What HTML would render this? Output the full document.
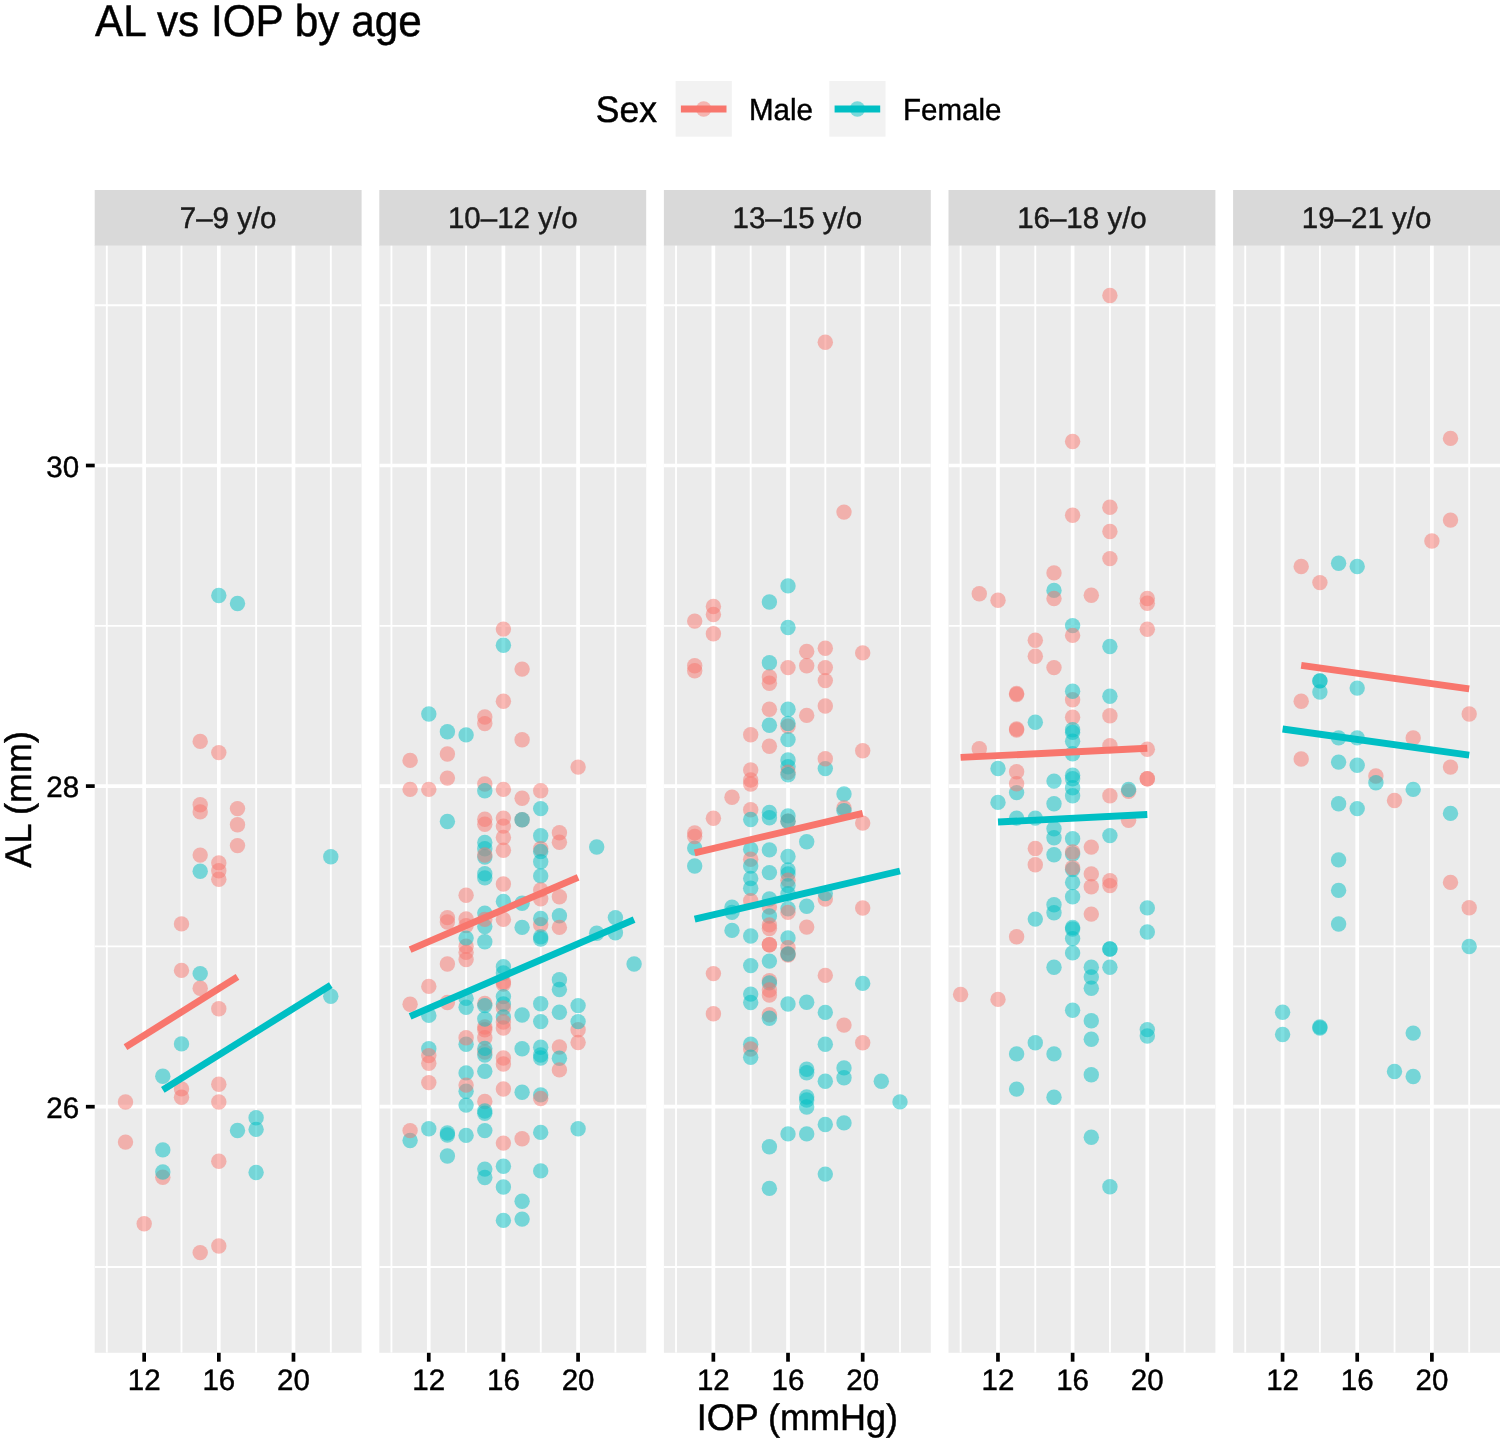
<!DOCTYPE html><html><head><meta charset="utf-8"><style>html,body{margin:0;padding:0;background:#fff;}svg{display:block;}</style></head><body>
<svg width="1500" height="1447" viewBox="0 0 1500 1447" font-family="Liberation Sans, sans-serif" text-rendering="geometricPrecision">
<defs><filter id="gs"><feOffset dx="0" dy="0"/></filter></defs>
<rect width="1500" height="1447" fill="#fff"/>
<g filter="url(#gs)"><text transform="translate(95.00,36.40) scale(1,1.049)" font-size="42.3" text-anchor="start" fill="#000" stroke="#000" stroke-width="0.45">AL vs IOP by age</text></g>
<g filter="url(#gs)"><text transform="translate(595.80,122.00) scale(1,1.04)" font-size="35.5" text-anchor="start" fill="#000" stroke="#000" stroke-width="0.45">Sex</text></g>
<rect x="675.6" y="81" width="56.2" height="55.7" fill="#F2F2F2"/>
<circle cx="703.7" cy="109.0" r="7.7" fill="#F8766D" fill-opacity="0.5"/>
<line x1="680.9" y1="109.0" x2="726.5" y2="109.0" stroke="#F8766D" stroke-width="7.0"/>
<g filter="url(#gs)"><text transform="translate(749.00,119.85) scale(1,1.03)" font-size="29.5" text-anchor="start" fill="#000" stroke="#000" stroke-width="0.45">Male</text></g>
<rect x="829.3" y="81" width="56.2" height="55.7" fill="#F2F2F2"/>
<circle cx="857.4" cy="109.0" r="7.7" fill="#00BFC4" fill-opacity="0.5"/>
<line x1="834.5999999999999" y1="109.0" x2="880.1999999999999" y2="109.0" stroke="#00BFC4" stroke-width="7.0"/>
<g filter="url(#gs)"><text transform="translate(903.00,119.85) scale(1,1.03)" font-size="29.5" text-anchor="start" fill="#000" stroke="#000" stroke-width="0.45">Female</text></g>
<rect x="94.70" y="190.0" width="266.9" height="56.00" fill="#D9D9D9"/>
<g filter="url(#gs)"><text transform="translate(228.15,228.40) scale(1,1.01)" font-size="29.5" text-anchor="middle" fill="#1A1A1A" stroke="#1A1A1A" stroke-width="0.45">7–9 y/o</text></g>
<rect x="94.70" y="245.5" width="266.9" height="1107.30" fill="#EBEBEB"/>
<svg x="94.70" y="245.5" width="266.9" height="1107.30" overflow="hidden"><g transform="translate(-94.70,-245.5)">
<line x1="94.70" x2="361.60" y1="1267.00" y2="1267.00" stroke="#fff" stroke-width="1.85"/>
<line x1="94.70" x2="361.60" y1="946.40" y2="946.40" stroke="#fff" stroke-width="1.85"/>
<line x1="94.70" x2="361.60" y1="625.80" y2="625.80" stroke="#fff" stroke-width="1.85"/>
<line x1="94.70" x2="361.60" y1="305.20" y2="305.20" stroke="#fff" stroke-width="1.85"/>
<line x1="106.83" x2="106.83" y1="245.5" y2="1352.8" stroke="#fff" stroke-width="1.85"/>
<line x1="181.49" x2="181.49" y1="245.5" y2="1352.8" stroke="#fff" stroke-width="1.85"/>
<line x1="256.15" x2="256.15" y1="245.5" y2="1352.8" stroke="#fff" stroke-width="1.85"/>
<line x1="330.80" x2="330.80" y1="245.5" y2="1352.8" stroke="#fff" stroke-width="1.85"/>
<line x1="94.70" x2="361.60" y1="1106.70" y2="1106.70" stroke="#fff" stroke-width="3.7"/>
<line x1="94.70" x2="361.60" y1="786.10" y2="786.10" stroke="#fff" stroke-width="3.7"/>
<line x1="94.70" x2="361.60" y1="465.50" y2="465.50" stroke="#fff" stroke-width="3.7"/>
<line x1="144.16" x2="144.16" y1="245.5" y2="1352.8" stroke="#fff" stroke-width="3.7"/>
<line x1="218.82" x2="218.82" y1="245.5" y2="1352.8" stroke="#fff" stroke-width="3.7"/>
<line x1="293.48" x2="293.48" y1="245.5" y2="1352.8" stroke="#fff" stroke-width="3.7"/>
<circle cx="218.8" cy="595.5" r="7.7" fill="#00BFC4" fill-opacity="0.5"/>
<circle cx="237.5" cy="603.5" r="7.7" fill="#00BFC4" fill-opacity="0.5"/>
<circle cx="200.2" cy="871.3" r="7.7" fill="#00BFC4" fill-opacity="0.5"/>
<circle cx="330.8" cy="856.8" r="7.7" fill="#00BFC4" fill-opacity="0.5"/>
<circle cx="200.2" cy="973.6" r="7.7" fill="#00BFC4" fill-opacity="0.5"/>
<circle cx="330.8" cy="996.3" r="7.7" fill="#00BFC4" fill-opacity="0.5"/>
<circle cx="181.5" cy="1043.9" r="7.7" fill="#00BFC4" fill-opacity="0.5"/>
<circle cx="162.8" cy="1076.2" r="7.7" fill="#00BFC4" fill-opacity="0.5"/>
<circle cx="256.1" cy="1117.8" r="7.7" fill="#00BFC4" fill-opacity="0.5"/>
<circle cx="237.5" cy="1130.5" r="7.7" fill="#00BFC4" fill-opacity="0.5"/>
<circle cx="256.1" cy="1129.4" r="7.7" fill="#00BFC4" fill-opacity="0.5"/>
<circle cx="162.8" cy="1149.9" r="7.7" fill="#00BFC4" fill-opacity="0.5"/>
<circle cx="256.1" cy="1172.5" r="7.7" fill="#00BFC4" fill-opacity="0.5"/>
<circle cx="200.2" cy="741.4" r="7.7" fill="#F8766D" fill-opacity="0.5"/>
<circle cx="218.8" cy="752.6" r="7.7" fill="#F8766D" fill-opacity="0.5"/>
<circle cx="200.2" cy="804.8" r="7.7" fill="#F8766D" fill-opacity="0.5"/>
<circle cx="200.2" cy="811.9" r="7.7" fill="#F8766D" fill-opacity="0.5"/>
<circle cx="237.5" cy="808.6" r="7.7" fill="#F8766D" fill-opacity="0.5"/>
<circle cx="237.5" cy="824.8" r="7.7" fill="#F8766D" fill-opacity="0.5"/>
<circle cx="237.5" cy="845.6" r="7.7" fill="#F8766D" fill-opacity="0.5"/>
<circle cx="200.2" cy="855.1" r="7.7" fill="#F8766D" fill-opacity="0.5"/>
<circle cx="218.8" cy="862.9" r="7.7" fill="#F8766D" fill-opacity="0.5"/>
<circle cx="218.8" cy="870.8" r="7.7" fill="#F8766D" fill-opacity="0.5"/>
<circle cx="218.8" cy="879.3" r="7.7" fill="#F8766D" fill-opacity="0.5"/>
<circle cx="181.5" cy="923.9" r="7.7" fill="#F8766D" fill-opacity="0.5"/>
<circle cx="181.5" cy="970.4" r="7.7" fill="#F8766D" fill-opacity="0.5"/>
<circle cx="200.2" cy="988.3" r="7.7" fill="#F8766D" fill-opacity="0.5"/>
<circle cx="218.8" cy="1008.8" r="7.7" fill="#F8766D" fill-opacity="0.5"/>
<circle cx="218.8" cy="1084.2" r="7.7" fill="#F8766D" fill-opacity="0.5"/>
<circle cx="181.5" cy="1088.9" r="7.7" fill="#F8766D" fill-opacity="0.5"/>
<circle cx="181.5" cy="1097.3" r="7.7" fill="#F8766D" fill-opacity="0.5"/>
<circle cx="218.8" cy="1102.0" r="7.7" fill="#F8766D" fill-opacity="0.5"/>
<circle cx="125.5" cy="1102.0" r="7.7" fill="#F8766D" fill-opacity="0.5"/>
<circle cx="125.5" cy="1142.1" r="7.7" fill="#F8766D" fill-opacity="0.5"/>
<circle cx="218.8" cy="1161.3" r="7.7" fill="#F8766D" fill-opacity="0.5"/>
<circle cx="162.8" cy="1177.2" r="7.7" fill="#F8766D" fill-opacity="0.5"/>
<circle cx="144.2" cy="1223.8" r="7.7" fill="#F8766D" fill-opacity="0.5"/>
<circle cx="200.2" cy="1252.6" r="7.7" fill="#F8766D" fill-opacity="0.5"/>
<circle cx="218.8" cy="1246.0" r="7.7" fill="#F8766D" fill-opacity="0.5"/>
<circle cx="162.8" cy="1172.0" r="7.7" fill="#00BFC4" fill-opacity="0.5"/>
<line x1="125.5" y1="1047.1" x2="237.5" y2="976.8" stroke="#F8766D" stroke-width="6.9"/>
<line x1="162.8" y1="1089.9" x2="330.8" y2="985.1" stroke="#00BFC4" stroke-width="6.9"/>
</g></svg>
<line x1="144.16" x2="144.16" y1="1352.8" y2="1361.70" stroke="#000" stroke-width="3.7"/>
<g filter="url(#gs)"><text transform="translate(144.16,1389.80) scale(1,1.0)" font-size="29.5" text-anchor="middle" fill="#000" stroke="#000" stroke-width="0.45">12</text></g>
<line x1="218.82" x2="218.82" y1="1352.8" y2="1361.70" stroke="#000" stroke-width="3.7"/>
<g filter="url(#gs)"><text transform="translate(218.82,1389.80) scale(1,1.0)" font-size="29.5" text-anchor="middle" fill="#000" stroke="#000" stroke-width="0.45">16</text></g>
<line x1="293.48" x2="293.48" y1="1352.8" y2="1361.70" stroke="#000" stroke-width="3.7"/>
<g filter="url(#gs)"><text transform="translate(293.48,1389.80) scale(1,1.0)" font-size="29.5" text-anchor="middle" fill="#000" stroke="#000" stroke-width="0.45">20</text></g>
<rect x="379.30" y="190.0" width="266.9" height="56.00" fill="#D9D9D9"/>
<g filter="url(#gs)"><text transform="translate(512.75,228.40) scale(1,1.01)" font-size="29.5" text-anchor="middle" fill="#1A1A1A" stroke="#1A1A1A" stroke-width="0.45">10–12 y/o</text></g>
<rect x="379.30" y="245.5" width="266.9" height="1107.30" fill="#EBEBEB"/>
<svg x="379.30" y="245.5" width="266.9" height="1107.30" overflow="hidden"><g transform="translate(-379.30,-245.5)">
<line x1="379.30" x2="646.20" y1="1267.00" y2="1267.00" stroke="#fff" stroke-width="1.85"/>
<line x1="379.30" x2="646.20" y1="946.40" y2="946.40" stroke="#fff" stroke-width="1.85"/>
<line x1="379.30" x2="646.20" y1="625.80" y2="625.80" stroke="#fff" stroke-width="1.85"/>
<line x1="379.30" x2="646.20" y1="305.20" y2="305.20" stroke="#fff" stroke-width="1.85"/>
<line x1="391.43" x2="391.43" y1="245.5" y2="1352.8" stroke="#fff" stroke-width="1.85"/>
<line x1="466.09" x2="466.09" y1="245.5" y2="1352.8" stroke="#fff" stroke-width="1.85"/>
<line x1="540.75" x2="540.75" y1="245.5" y2="1352.8" stroke="#fff" stroke-width="1.85"/>
<line x1="615.40" x2="615.40" y1="245.5" y2="1352.8" stroke="#fff" stroke-width="1.85"/>
<line x1="379.30" x2="646.20" y1="1106.70" y2="1106.70" stroke="#fff" stroke-width="3.7"/>
<line x1="379.30" x2="646.20" y1="786.10" y2="786.10" stroke="#fff" stroke-width="3.7"/>
<line x1="379.30" x2="646.20" y1="465.50" y2="465.50" stroke="#fff" stroke-width="3.7"/>
<line x1="428.76" x2="428.76" y1="245.5" y2="1352.8" stroke="#fff" stroke-width="3.7"/>
<line x1="503.42" x2="503.42" y1="245.5" y2="1352.8" stroke="#fff" stroke-width="3.7"/>
<line x1="578.08" x2="578.08" y1="245.5" y2="1352.8" stroke="#fff" stroke-width="3.7"/>
<circle cx="410.1" cy="760.4" r="7.7" fill="#F8766D" fill-opacity="0.5"/>
<circle cx="410.1" cy="789.4" r="7.7" fill="#F8766D" fill-opacity="0.5"/>
<circle cx="410.1" cy="1004.3" r="7.7" fill="#F8766D" fill-opacity="0.5"/>
<circle cx="410.1" cy="1140.5" r="7.7" fill="#00BFC4" fill-opacity="0.5"/>
<circle cx="410.1" cy="1130.6" r="7.7" fill="#F8766D" fill-opacity="0.5"/>
<circle cx="428.8" cy="714.0" r="7.7" fill="#00BFC4" fill-opacity="0.5"/>
<circle cx="428.8" cy="789.4" r="7.7" fill="#F8766D" fill-opacity="0.5"/>
<circle cx="428.8" cy="986.4" r="7.7" fill="#F8766D" fill-opacity="0.5"/>
<circle cx="428.8" cy="1015.4" r="7.7" fill="#00BFC4" fill-opacity="0.5"/>
<circle cx="428.8" cy="1048.8" r="7.7" fill="#00BFC4" fill-opacity="0.5"/>
<circle cx="428.8" cy="1055.6" r="7.7" fill="#F8766D" fill-opacity="0.5"/>
<circle cx="428.8" cy="1063.3" r="7.7" fill="#F8766D" fill-opacity="0.5"/>
<circle cx="428.8" cy="1082.6" r="7.7" fill="#F8766D" fill-opacity="0.5"/>
<circle cx="428.8" cy="1128.8" r="7.7" fill="#00BFC4" fill-opacity="0.5"/>
<circle cx="447.4" cy="731.7" r="7.7" fill="#00BFC4" fill-opacity="0.5"/>
<circle cx="447.4" cy="754.0" r="7.7" fill="#F8766D" fill-opacity="0.5"/>
<circle cx="447.4" cy="778.1" r="7.7" fill="#F8766D" fill-opacity="0.5"/>
<circle cx="447.4" cy="821.5" r="7.7" fill="#00BFC4" fill-opacity="0.5"/>
<circle cx="447.4" cy="917.6" r="7.7" fill="#F8766D" fill-opacity="0.5"/>
<circle cx="447.4" cy="922.0" r="7.7" fill="#F8766D" fill-opacity="0.5"/>
<circle cx="447.4" cy="964.0" r="7.7" fill="#F8766D" fill-opacity="0.5"/>
<circle cx="447.4" cy="1002.5" r="7.7" fill="#F8766D" fill-opacity="0.5"/>
<circle cx="447.4" cy="1133.0" r="7.7" fill="#00BFC4" fill-opacity="0.5"/>
<circle cx="447.4" cy="1135.0" r="7.7" fill="#00BFC4" fill-opacity="0.5"/>
<circle cx="447.4" cy="1156.0" r="7.7" fill="#00BFC4" fill-opacity="0.5"/>
<circle cx="466.1" cy="734.9" r="7.7" fill="#00BFC4" fill-opacity="0.5"/>
<circle cx="466.1" cy="895.2" r="7.7" fill="#F8766D" fill-opacity="0.5"/>
<circle cx="466.1" cy="919.0" r="7.7" fill="#F8766D" fill-opacity="0.5"/>
<circle cx="466.1" cy="925.6" r="7.7" fill="#F8766D" fill-opacity="0.5"/>
<circle cx="466.1" cy="946.2" r="7.7" fill="#F8766D" fill-opacity="0.5"/>
<circle cx="466.1" cy="938.1" r="7.7" fill="#00BFC4" fill-opacity="0.5"/>
<circle cx="466.1" cy="952.4" r="7.7" fill="#F8766D" fill-opacity="0.5"/>
<circle cx="466.1" cy="959.6" r="7.7" fill="#F8766D" fill-opacity="0.5"/>
<circle cx="466.1" cy="998.4" r="7.7" fill="#00BFC4" fill-opacity="0.5"/>
<circle cx="466.1" cy="1007.3" r="7.7" fill="#00BFC4" fill-opacity="0.5"/>
<circle cx="466.1" cy="1044.3" r="7.7" fill="#00BFC4" fill-opacity="0.5"/>
<circle cx="466.1" cy="1037.7" r="7.7" fill="#F8766D" fill-opacity="0.5"/>
<circle cx="466.1" cy="1072.9" r="7.7" fill="#00BFC4" fill-opacity="0.5"/>
<circle cx="466.1" cy="1091.3" r="7.7" fill="#00BFC4" fill-opacity="0.5"/>
<circle cx="466.1" cy="1085.1" r="7.7" fill="#F8766D" fill-opacity="0.5"/>
<circle cx="466.1" cy="1105.1" r="7.7" fill="#00BFC4" fill-opacity="0.5"/>
<circle cx="466.1" cy="1135.4" r="7.7" fill="#00BFC4" fill-opacity="0.5"/>
<circle cx="484.8" cy="717.0" r="7.7" fill="#F8766D" fill-opacity="0.5"/>
<circle cx="484.8" cy="723.6" r="7.7" fill="#F8766D" fill-opacity="0.5"/>
<circle cx="484.8" cy="784.0" r="7.7" fill="#F8766D" fill-opacity="0.5"/>
<circle cx="484.8" cy="790.8" r="7.7" fill="#00BFC4" fill-opacity="0.5"/>
<circle cx="484.8" cy="819.3" r="7.7" fill="#F8766D" fill-opacity="0.5"/>
<circle cx="484.8" cy="824.3" r="7.7" fill="#F8766D" fill-opacity="0.5"/>
<circle cx="484.8" cy="842.5" r="7.7" fill="#00BFC4" fill-opacity="0.5"/>
<circle cx="484.8" cy="848.8" r="7.7" fill="#00BFC4" fill-opacity="0.5"/>
<circle cx="484.8" cy="857.0" r="7.7" fill="#00BFC4" fill-opacity="0.5"/>
<circle cx="484.8" cy="855.0" r="7.7" fill="#F8766D" fill-opacity="0.5"/>
<circle cx="484.8" cy="873.8" r="7.7" fill="#00BFC4" fill-opacity="0.5"/>
<circle cx="484.8" cy="877.9" r="7.7" fill="#00BFC4" fill-opacity="0.5"/>
<circle cx="484.8" cy="913.1" r="7.7" fill="#00BFC4" fill-opacity="0.5"/>
<circle cx="484.8" cy="926.5" r="7.7" fill="#00BFC4" fill-opacity="0.5"/>
<circle cx="484.8" cy="919.4" r="7.7" fill="#F8766D" fill-opacity="0.5"/>
<circle cx="484.8" cy="941.7" r="7.7" fill="#00BFC4" fill-opacity="0.5"/>
<circle cx="484.8" cy="1003.4" r="7.7" fill="#F8766D" fill-opacity="0.5"/>
<circle cx="484.8" cy="1005.6" r="7.7" fill="#00BFC4" fill-opacity="0.5"/>
<circle cx="484.8" cy="1027.0" r="7.7" fill="#F8766D" fill-opacity="0.5"/>
<circle cx="484.8" cy="1029.7" r="7.7" fill="#F8766D" fill-opacity="0.5"/>
<circle cx="484.8" cy="1019.0" r="7.7" fill="#00BFC4" fill-opacity="0.5"/>
<circle cx="484.8" cy="1037.7" r="7.7" fill="#F8766D" fill-opacity="0.5"/>
<circle cx="484.8" cy="1052.0" r="7.7" fill="#F8766D" fill-opacity="0.5"/>
<circle cx="484.8" cy="1048.4" r="7.7" fill="#00BFC4" fill-opacity="0.5"/>
<circle cx="484.8" cy="1055.0" r="7.7" fill="#00BFC4" fill-opacity="0.5"/>
<circle cx="484.8" cy="1071.3" r="7.7" fill="#00BFC4" fill-opacity="0.5"/>
<circle cx="484.8" cy="1101.5" r="7.7" fill="#F8766D" fill-opacity="0.5"/>
<circle cx="484.8" cy="1111.0" r="7.7" fill="#00BFC4" fill-opacity="0.5"/>
<circle cx="484.8" cy="1113.3" r="7.7" fill="#00BFC4" fill-opacity="0.5"/>
<circle cx="484.8" cy="1130.6" r="7.7" fill="#00BFC4" fill-opacity="0.5"/>
<circle cx="484.8" cy="1169.1" r="7.7" fill="#00BFC4" fill-opacity="0.5"/>
<circle cx="484.8" cy="1177.5" r="7.7" fill="#00BFC4" fill-opacity="0.5"/>
<circle cx="503.4" cy="629.1" r="7.7" fill="#F8766D" fill-opacity="0.5"/>
<circle cx="503.4" cy="645.2" r="7.7" fill="#00BFC4" fill-opacity="0.5"/>
<circle cx="503.4" cy="701.3" r="7.7" fill="#F8766D" fill-opacity="0.5"/>
<circle cx="503.4" cy="789.4" r="7.7" fill="#F8766D" fill-opacity="0.5"/>
<circle cx="503.4" cy="818.1" r="7.7" fill="#F8766D" fill-opacity="0.5"/>
<circle cx="503.4" cy="826.1" r="7.7" fill="#F8766D" fill-opacity="0.5"/>
<circle cx="503.4" cy="837.5" r="7.7" fill="#F8766D" fill-opacity="0.5"/>
<circle cx="503.4" cy="850.2" r="7.7" fill="#F8766D" fill-opacity="0.5"/>
<circle cx="503.4" cy="884.0" r="7.7" fill="#F8766D" fill-opacity="0.5"/>
<circle cx="503.4" cy="901.5" r="7.7" fill="#00BFC4" fill-opacity="0.5"/>
<circle cx="503.4" cy="919.4" r="7.7" fill="#F8766D" fill-opacity="0.5"/>
<circle cx="503.4" cy="966.7" r="7.7" fill="#00BFC4" fill-opacity="0.5"/>
<circle cx="503.4" cy="973.0" r="7.7" fill="#00BFC4" fill-opacity="0.5"/>
<circle cx="503.4" cy="982.0" r="7.7" fill="#F8766D" fill-opacity="0.5"/>
<circle cx="503.4" cy="984.0" r="7.7" fill="#F8766D" fill-opacity="0.5"/>
<circle cx="503.4" cy="996.6" r="7.7" fill="#00BFC4" fill-opacity="0.5"/>
<circle cx="503.4" cy="1004.0" r="7.7" fill="#00BFC4" fill-opacity="0.5"/>
<circle cx="503.4" cy="1008.0" r="7.7" fill="#F8766D" fill-opacity="0.5"/>
<circle cx="503.4" cy="1017.0" r="7.7" fill="#00BFC4" fill-opacity="0.5"/>
<circle cx="503.4" cy="1022.0" r="7.7" fill="#F8766D" fill-opacity="0.5"/>
<circle cx="503.4" cy="1028.0" r="7.7" fill="#F8766D" fill-opacity="0.5"/>
<circle cx="503.4" cy="1058.0" r="7.7" fill="#F8766D" fill-opacity="0.5"/>
<circle cx="503.4" cy="1064.0" r="7.7" fill="#F8766D" fill-opacity="0.5"/>
<circle cx="503.4" cy="1089.0" r="7.7" fill="#F8766D" fill-opacity="0.5"/>
<circle cx="503.4" cy="1143.1" r="7.7" fill="#F8766D" fill-opacity="0.5"/>
<circle cx="503.4" cy="1166.3" r="7.7" fill="#00BFC4" fill-opacity="0.5"/>
<circle cx="503.4" cy="1187.0" r="7.7" fill="#00BFC4" fill-opacity="0.5"/>
<circle cx="503.4" cy="1220.4" r="7.7" fill="#00BFC4" fill-opacity="0.5"/>
<circle cx="522.1" cy="669.1" r="7.7" fill="#F8766D" fill-opacity="0.5"/>
<circle cx="522.1" cy="739.7" r="7.7" fill="#F8766D" fill-opacity="0.5"/>
<circle cx="522.1" cy="798.3" r="7.7" fill="#F8766D" fill-opacity="0.5"/>
<circle cx="522.1" cy="819.7" r="7.7" fill="#F8766D" fill-opacity="0.5"/>
<circle cx="522.1" cy="819.7" r="7.7" fill="#00BFC4" fill-opacity="0.5"/>
<circle cx="522.1" cy="903.3" r="7.7" fill="#00BFC4" fill-opacity="0.5"/>
<circle cx="522.1" cy="927.4" r="7.7" fill="#00BFC4" fill-opacity="0.5"/>
<circle cx="522.1" cy="1015.0" r="7.7" fill="#00BFC4" fill-opacity="0.5"/>
<circle cx="522.1" cy="1048.8" r="7.7" fill="#00BFC4" fill-opacity="0.5"/>
<circle cx="522.1" cy="1092.2" r="7.7" fill="#00BFC4" fill-opacity="0.5"/>
<circle cx="522.1" cy="1138.7" r="7.7" fill="#F8766D" fill-opacity="0.5"/>
<circle cx="522.1" cy="1201.3" r="7.7" fill="#00BFC4" fill-opacity="0.5"/>
<circle cx="522.1" cy="1219.1" r="7.7" fill="#00BFC4" fill-opacity="0.5"/>
<circle cx="540.7" cy="790.8" r="7.7" fill="#F8766D" fill-opacity="0.5"/>
<circle cx="540.7" cy="808.6" r="7.7" fill="#00BFC4" fill-opacity="0.5"/>
<circle cx="540.7" cy="835.7" r="7.7" fill="#00BFC4" fill-opacity="0.5"/>
<circle cx="540.7" cy="848.8" r="7.7" fill="#F8766D" fill-opacity="0.5"/>
<circle cx="540.7" cy="851.5" r="7.7" fill="#00BFC4" fill-opacity="0.5"/>
<circle cx="540.7" cy="861.8" r="7.7" fill="#00BFC4" fill-opacity="0.5"/>
<circle cx="540.7" cy="875.9" r="7.7" fill="#00BFC4" fill-opacity="0.5"/>
<circle cx="540.7" cy="889.9" r="7.7" fill="#F8766D" fill-opacity="0.5"/>
<circle cx="540.7" cy="898.8" r="7.7" fill="#F8766D" fill-opacity="0.5"/>
<circle cx="540.7" cy="924.7" r="7.7" fill="#F8766D" fill-opacity="0.5"/>
<circle cx="540.7" cy="918.5" r="7.7" fill="#00BFC4" fill-opacity="0.5"/>
<circle cx="540.7" cy="936.9" r="7.7" fill="#00BFC4" fill-opacity="0.5"/>
<circle cx="540.7" cy="939.0" r="7.7" fill="#00BFC4" fill-opacity="0.5"/>
<circle cx="540.7" cy="1003.8" r="7.7" fill="#00BFC4" fill-opacity="0.5"/>
<circle cx="540.7" cy="1021.6" r="7.7" fill="#00BFC4" fill-opacity="0.5"/>
<circle cx="540.7" cy="1047.2" r="7.7" fill="#00BFC4" fill-opacity="0.5"/>
<circle cx="540.7" cy="1055.0" r="7.7" fill="#00BFC4" fill-opacity="0.5"/>
<circle cx="540.7" cy="1058.0" r="7.7" fill="#00BFC4" fill-opacity="0.5"/>
<circle cx="540.7" cy="1094.9" r="7.7" fill="#00BFC4" fill-opacity="0.5"/>
<circle cx="540.7" cy="1098.5" r="7.7" fill="#F8766D" fill-opacity="0.5"/>
<circle cx="540.7" cy="1132.4" r="7.7" fill="#00BFC4" fill-opacity="0.5"/>
<circle cx="540.7" cy="1170.9" r="7.7" fill="#00BFC4" fill-opacity="0.5"/>
<circle cx="559.4" cy="832.7" r="7.7" fill="#F8766D" fill-opacity="0.5"/>
<circle cx="559.4" cy="842.2" r="7.7" fill="#F8766D" fill-opacity="0.5"/>
<circle cx="559.4" cy="896.7" r="7.7" fill="#F8766D" fill-opacity="0.5"/>
<circle cx="559.4" cy="915.8" r="7.7" fill="#00BFC4" fill-opacity="0.5"/>
<circle cx="559.4" cy="927.4" r="7.7" fill="#F8766D" fill-opacity="0.5"/>
<circle cx="559.4" cy="979.7" r="7.7" fill="#00BFC4" fill-opacity="0.5"/>
<circle cx="559.4" cy="989.5" r="7.7" fill="#00BFC4" fill-opacity="0.5"/>
<circle cx="559.4" cy="1012.2" r="7.7" fill="#00BFC4" fill-opacity="0.5"/>
<circle cx="559.4" cy="1047.0" r="7.7" fill="#F8766D" fill-opacity="0.5"/>
<circle cx="559.4" cy="1058.3" r="7.7" fill="#00BFC4" fill-opacity="0.5"/>
<circle cx="559.4" cy="1069.9" r="7.7" fill="#F8766D" fill-opacity="0.5"/>
<circle cx="578.1" cy="767.1" r="7.7" fill="#F8766D" fill-opacity="0.5"/>
<circle cx="578.1" cy="1005.6" r="7.7" fill="#00BFC4" fill-opacity="0.5"/>
<circle cx="578.1" cy="1029.7" r="7.7" fill="#F8766D" fill-opacity="0.5"/>
<circle cx="578.1" cy="1021.6" r="7.7" fill="#00BFC4" fill-opacity="0.5"/>
<circle cx="578.1" cy="1042.5" r="7.7" fill="#F8766D" fill-opacity="0.5"/>
<circle cx="578.1" cy="1128.8" r="7.7" fill="#00BFC4" fill-opacity="0.5"/>
<circle cx="596.7" cy="847.0" r="7.7" fill="#00BFC4" fill-opacity="0.5"/>
<circle cx="596.7" cy="933.3" r="7.7" fill="#00BFC4" fill-opacity="0.5"/>
<circle cx="615.4" cy="917.6" r="7.7" fill="#00BFC4" fill-opacity="0.5"/>
<circle cx="615.4" cy="932.8" r="7.7" fill="#00BFC4" fill-opacity="0.5"/>
<circle cx="634.1" cy="964.0" r="7.7" fill="#00BFC4" fill-opacity="0.5"/>
<line x1="410.1" y1="949.7" x2="578.1" y2="877.4" stroke="#F8766D" stroke-width="6.9"/>
<line x1="410.1" y1="1016.3" x2="634.1" y2="919.7" stroke="#00BFC4" stroke-width="6.9"/>
</g></svg>
<line x1="428.76" x2="428.76" y1="1352.8" y2="1361.70" stroke="#000" stroke-width="3.7"/>
<g filter="url(#gs)"><text transform="translate(428.76,1389.80) scale(1,1.0)" font-size="29.5" text-anchor="middle" fill="#000" stroke="#000" stroke-width="0.45">12</text></g>
<line x1="503.42" x2="503.42" y1="1352.8" y2="1361.70" stroke="#000" stroke-width="3.7"/>
<g filter="url(#gs)"><text transform="translate(503.42,1389.80) scale(1,1.0)" font-size="29.5" text-anchor="middle" fill="#000" stroke="#000" stroke-width="0.45">16</text></g>
<line x1="578.08" x2="578.08" y1="1352.8" y2="1361.70" stroke="#000" stroke-width="3.7"/>
<g filter="url(#gs)"><text transform="translate(578.08,1389.80) scale(1,1.0)" font-size="29.5" text-anchor="middle" fill="#000" stroke="#000" stroke-width="0.45">20</text></g>
<rect x="663.90" y="190.0" width="266.9" height="56.00" fill="#D9D9D9"/>
<g filter="url(#gs)"><text transform="translate(797.35,228.40) scale(1,1.01)" font-size="29.5" text-anchor="middle" fill="#1A1A1A" stroke="#1A1A1A" stroke-width="0.45">13–15 y/o</text></g>
<rect x="663.90" y="245.5" width="266.9" height="1107.30" fill="#EBEBEB"/>
<svg x="663.90" y="245.5" width="266.9" height="1107.30" overflow="hidden"><g transform="translate(-663.90,-245.5)">
<line x1="663.90" x2="930.80" y1="1267.00" y2="1267.00" stroke="#fff" stroke-width="1.85"/>
<line x1="663.90" x2="930.80" y1="946.40" y2="946.40" stroke="#fff" stroke-width="1.85"/>
<line x1="663.90" x2="930.80" y1="625.80" y2="625.80" stroke="#fff" stroke-width="1.85"/>
<line x1="663.90" x2="930.80" y1="305.20" y2="305.20" stroke="#fff" stroke-width="1.85"/>
<line x1="676.03" x2="676.03" y1="245.5" y2="1352.8" stroke="#fff" stroke-width="1.85"/>
<line x1="750.69" x2="750.69" y1="245.5" y2="1352.8" stroke="#fff" stroke-width="1.85"/>
<line x1="825.35" x2="825.35" y1="245.5" y2="1352.8" stroke="#fff" stroke-width="1.85"/>
<line x1="900.00" x2="900.00" y1="245.5" y2="1352.8" stroke="#fff" stroke-width="1.85"/>
<line x1="663.90" x2="930.80" y1="1106.70" y2="1106.70" stroke="#fff" stroke-width="3.7"/>
<line x1="663.90" x2="930.80" y1="786.10" y2="786.10" stroke="#fff" stroke-width="3.7"/>
<line x1="663.90" x2="930.80" y1="465.50" y2="465.50" stroke="#fff" stroke-width="3.7"/>
<line x1="713.36" x2="713.36" y1="245.5" y2="1352.8" stroke="#fff" stroke-width="3.7"/>
<line x1="788.02" x2="788.02" y1="245.5" y2="1352.8" stroke="#fff" stroke-width="3.7"/>
<line x1="862.68" x2="862.68" y1="245.5" y2="1352.8" stroke="#fff" stroke-width="3.7"/>
<circle cx="694.7" cy="621.1" r="7.7" fill="#F8766D" fill-opacity="0.5"/>
<circle cx="694.7" cy="665.8" r="7.7" fill="#F8766D" fill-opacity="0.5"/>
<circle cx="694.7" cy="670.8" r="7.7" fill="#F8766D" fill-opacity="0.5"/>
<circle cx="694.7" cy="848.1" r="7.7" fill="#00BFC4" fill-opacity="0.5"/>
<circle cx="694.7" cy="832.9" r="7.7" fill="#F8766D" fill-opacity="0.5"/>
<circle cx="694.7" cy="836.5" r="7.7" fill="#F8766D" fill-opacity="0.5"/>
<circle cx="694.7" cy="866.0" r="7.7" fill="#00BFC4" fill-opacity="0.5"/>
<circle cx="713.4" cy="606.5" r="7.7" fill="#F8766D" fill-opacity="0.5"/>
<circle cx="713.4" cy="614.5" r="7.7" fill="#F8766D" fill-opacity="0.5"/>
<circle cx="713.4" cy="633.8" r="7.7" fill="#F8766D" fill-opacity="0.5"/>
<circle cx="713.4" cy="818.3" r="7.7" fill="#F8766D" fill-opacity="0.5"/>
<circle cx="713.4" cy="973.6" r="7.7" fill="#F8766D" fill-opacity="0.5"/>
<circle cx="713.4" cy="1013.8" r="7.7" fill="#F8766D" fill-opacity="0.5"/>
<circle cx="732.0" cy="797.2" r="7.7" fill="#F8766D" fill-opacity="0.5"/>
<circle cx="732.0" cy="907.1" r="7.7" fill="#00BFC4" fill-opacity="0.5"/>
<circle cx="732.0" cy="912.4" r="7.7" fill="#00BFC4" fill-opacity="0.5"/>
<circle cx="732.0" cy="930.4" r="7.7" fill="#00BFC4" fill-opacity="0.5"/>
<circle cx="750.7" cy="734.7" r="7.7" fill="#F8766D" fill-opacity="0.5"/>
<circle cx="750.7" cy="770.0" r="7.7" fill="#F8766D" fill-opacity="0.5"/>
<circle cx="750.7" cy="780.0" r="7.7" fill="#F8766D" fill-opacity="0.5"/>
<circle cx="750.7" cy="784.0" r="7.7" fill="#F8766D" fill-opacity="0.5"/>
<circle cx="750.7" cy="809.7" r="7.7" fill="#F8766D" fill-opacity="0.5"/>
<circle cx="750.7" cy="819.5" r="7.7" fill="#00BFC4" fill-opacity="0.5"/>
<circle cx="750.7" cy="849.3" r="7.7" fill="#00BFC4" fill-opacity="0.5"/>
<circle cx="750.7" cy="859.3" r="7.7" fill="#F8766D" fill-opacity="0.5"/>
<circle cx="750.7" cy="866.0" r="7.7" fill="#00BFC4" fill-opacity="0.5"/>
<circle cx="750.7" cy="878.5" r="7.7" fill="#00BFC4" fill-opacity="0.5"/>
<circle cx="750.7" cy="888.3" r="7.7" fill="#00BFC4" fill-opacity="0.5"/>
<circle cx="750.7" cy="900.8" r="7.7" fill="#F8766D" fill-opacity="0.5"/>
<circle cx="750.7" cy="936.0" r="7.7" fill="#00BFC4" fill-opacity="0.5"/>
<circle cx="750.7" cy="965.6" r="7.7" fill="#00BFC4" fill-opacity="0.5"/>
<circle cx="750.7" cy="994.1" r="7.7" fill="#00BFC4" fill-opacity="0.5"/>
<circle cx="750.7" cy="1002.5" r="7.7" fill="#00BFC4" fill-opacity="0.5"/>
<circle cx="750.7" cy="1044.2" r="7.7" fill="#00BFC4" fill-opacity="0.5"/>
<circle cx="750.7" cy="1049.0" r="7.7" fill="#F8766D" fill-opacity="0.5"/>
<circle cx="750.7" cy="1057.2" r="7.7" fill="#00BFC4" fill-opacity="0.5"/>
<circle cx="769.4" cy="602.0" r="7.7" fill="#00BFC4" fill-opacity="0.5"/>
<circle cx="769.4" cy="662.7" r="7.7" fill="#00BFC4" fill-opacity="0.5"/>
<circle cx="769.4" cy="677.0" r="7.7" fill="#F8766D" fill-opacity="0.5"/>
<circle cx="769.4" cy="683.3" r="7.7" fill="#F8766D" fill-opacity="0.5"/>
<circle cx="769.4" cy="709.2" r="7.7" fill="#F8766D" fill-opacity="0.5"/>
<circle cx="769.4" cy="725.3" r="7.7" fill="#00BFC4" fill-opacity="0.5"/>
<circle cx="769.4" cy="746.2" r="7.7" fill="#F8766D" fill-opacity="0.5"/>
<circle cx="769.4" cy="812.4" r="7.7" fill="#00BFC4" fill-opacity="0.5"/>
<circle cx="769.4" cy="817.7" r="7.7" fill="#00BFC4" fill-opacity="0.5"/>
<circle cx="769.4" cy="849.9" r="7.7" fill="#00BFC4" fill-opacity="0.5"/>
<circle cx="769.4" cy="872.6" r="7.7" fill="#00BFC4" fill-opacity="0.5"/>
<circle cx="769.4" cy="899.0" r="7.7" fill="#00BFC4" fill-opacity="0.5"/>
<circle cx="769.4" cy="907.1" r="7.7" fill="#F8766D" fill-opacity="0.5"/>
<circle cx="769.4" cy="916.0" r="7.7" fill="#00BFC4" fill-opacity="0.5"/>
<circle cx="769.4" cy="924.9" r="7.7" fill="#F8766D" fill-opacity="0.5"/>
<circle cx="769.4" cy="928.5" r="7.7" fill="#F8766D" fill-opacity="0.5"/>
<circle cx="769.4" cy="944.7" r="7.7" fill="#F8766D" fill-opacity="0.5"/>
<circle cx="769.4" cy="944.7" r="7.7" fill="#F8766D" fill-opacity="0.5"/>
<circle cx="769.4" cy="961.1" r="7.7" fill="#00BFC4" fill-opacity="0.5"/>
<circle cx="769.4" cy="980.7" r="7.7" fill="#F8766D" fill-opacity="0.5"/>
<circle cx="769.4" cy="982.9" r="7.7" fill="#00BFC4" fill-opacity="0.5"/>
<circle cx="769.4" cy="990.0" r="7.7" fill="#F8766D" fill-opacity="0.5"/>
<circle cx="769.4" cy="995.0" r="7.7" fill="#F8766D" fill-opacity="0.5"/>
<circle cx="769.4" cy="1014.7" r="7.7" fill="#F8766D" fill-opacity="0.5"/>
<circle cx="769.4" cy="1018.3" r="7.7" fill="#00BFC4" fill-opacity="0.5"/>
<circle cx="769.4" cy="1146.8" r="7.7" fill="#00BFC4" fill-opacity="0.5"/>
<circle cx="769.4" cy="1188.4" r="7.7" fill="#00BFC4" fill-opacity="0.5"/>
<circle cx="788.0" cy="585.9" r="7.7" fill="#00BFC4" fill-opacity="0.5"/>
<circle cx="788.0" cy="627.5" r="7.7" fill="#00BFC4" fill-opacity="0.5"/>
<circle cx="788.0" cy="667.6" r="7.7" fill="#F8766D" fill-opacity="0.5"/>
<circle cx="788.0" cy="709.2" r="7.7" fill="#00BFC4" fill-opacity="0.5"/>
<circle cx="788.0" cy="726.2" r="7.7" fill="#F8766D" fill-opacity="0.5"/>
<circle cx="788.0" cy="723.5" r="7.7" fill="#00BFC4" fill-opacity="0.5"/>
<circle cx="788.0" cy="739.6" r="7.7" fill="#00BFC4" fill-opacity="0.5"/>
<circle cx="788.0" cy="760.0" r="7.7" fill="#00BFC4" fill-opacity="0.5"/>
<circle cx="788.0" cy="766.8" r="7.7" fill="#00BFC4" fill-opacity="0.5"/>
<circle cx="788.0" cy="772.2" r="7.7" fill="#F8766D" fill-opacity="0.5"/>
<circle cx="788.0" cy="774.8" r="7.7" fill="#00BFC4" fill-opacity="0.5"/>
<circle cx="788.0" cy="815.9" r="7.7" fill="#00BFC4" fill-opacity="0.5"/>
<circle cx="788.0" cy="821.3" r="7.7" fill="#F8766D" fill-opacity="0.5"/>
<circle cx="788.0" cy="821.3" r="7.7" fill="#00BFC4" fill-opacity="0.5"/>
<circle cx="788.0" cy="856.5" r="7.7" fill="#00BFC4" fill-opacity="0.5"/>
<circle cx="788.0" cy="870.0" r="7.7" fill="#00BFC4" fill-opacity="0.5"/>
<circle cx="788.0" cy="874.0" r="7.7" fill="#00BFC4" fill-opacity="0.5"/>
<circle cx="788.0" cy="880.3" r="7.7" fill="#F8766D" fill-opacity="0.5"/>
<circle cx="788.0" cy="885.6" r="7.7" fill="#00BFC4" fill-opacity="0.5"/>
<circle cx="788.0" cy="893.7" r="7.7" fill="#00BFC4" fill-opacity="0.5"/>
<circle cx="788.0" cy="908.8" r="7.7" fill="#00BFC4" fill-opacity="0.5"/>
<circle cx="788.0" cy="912.4" r="7.7" fill="#F8766D" fill-opacity="0.5"/>
<circle cx="788.0" cy="937.9" r="7.7" fill="#00BFC4" fill-opacity="0.5"/>
<circle cx="788.0" cy="947.7" r="7.7" fill="#F8766D" fill-opacity="0.5"/>
<circle cx="788.0" cy="954.0" r="7.7" fill="#F8766D" fill-opacity="0.5"/>
<circle cx="788.0" cy="955.0" r="7.7" fill="#F8766D" fill-opacity="0.5"/>
<circle cx="788.0" cy="954.0" r="7.7" fill="#00BFC4" fill-opacity="0.5"/>
<circle cx="788.0" cy="1004.0" r="7.7" fill="#00BFC4" fill-opacity="0.5"/>
<circle cx="788.0" cy="1133.9" r="7.7" fill="#00BFC4" fill-opacity="0.5"/>
<circle cx="806.7" cy="651.5" r="7.7" fill="#F8766D" fill-opacity="0.5"/>
<circle cx="806.7" cy="665.8" r="7.7" fill="#F8766D" fill-opacity="0.5"/>
<circle cx="806.7" cy="715.4" r="7.7" fill="#F8766D" fill-opacity="0.5"/>
<circle cx="806.7" cy="841.8" r="7.7" fill="#00BFC4" fill-opacity="0.5"/>
<circle cx="806.7" cy="906.2" r="7.7" fill="#00BFC4" fill-opacity="0.5"/>
<circle cx="806.7" cy="927.1" r="7.7" fill="#F8766D" fill-opacity="0.5"/>
<circle cx="806.7" cy="1002.2" r="7.7" fill="#00BFC4" fill-opacity="0.5"/>
<circle cx="806.7" cy="1069.2" r="7.7" fill="#00BFC4" fill-opacity="0.5"/>
<circle cx="806.7" cy="1072.8" r="7.7" fill="#00BFC4" fill-opacity="0.5"/>
<circle cx="806.7" cy="1097.0" r="7.7" fill="#00BFC4" fill-opacity="0.5"/>
<circle cx="806.7" cy="1100.0" r="7.7" fill="#00BFC4" fill-opacity="0.5"/>
<circle cx="806.7" cy="1107.0" r="7.7" fill="#00BFC4" fill-opacity="0.5"/>
<circle cx="806.7" cy="1133.9" r="7.7" fill="#00BFC4" fill-opacity="0.5"/>
<circle cx="825.3" cy="342.3" r="7.7" fill="#F8766D" fill-opacity="0.5"/>
<circle cx="825.3" cy="648.3" r="7.7" fill="#F8766D" fill-opacity="0.5"/>
<circle cx="825.3" cy="667.6" r="7.7" fill="#F8766D" fill-opacity="0.5"/>
<circle cx="825.3" cy="680.6" r="7.7" fill="#F8766D" fill-opacity="0.5"/>
<circle cx="825.3" cy="706.0" r="7.7" fill="#F8766D" fill-opacity="0.5"/>
<circle cx="825.3" cy="768.6" r="7.7" fill="#00BFC4" fill-opacity="0.5"/>
<circle cx="825.3" cy="758.7" r="7.7" fill="#F8766D" fill-opacity="0.5"/>
<circle cx="825.3" cy="899.0" r="7.7" fill="#F8766D" fill-opacity="0.5"/>
<circle cx="825.3" cy="893.5" r="7.7" fill="#00BFC4" fill-opacity="0.5"/>
<circle cx="825.3" cy="975.4" r="7.7" fill="#F8766D" fill-opacity="0.5"/>
<circle cx="825.3" cy="1012.4" r="7.7" fill="#00BFC4" fill-opacity="0.5"/>
<circle cx="825.3" cy="1044.2" r="7.7" fill="#00BFC4" fill-opacity="0.5"/>
<circle cx="825.3" cy="1081.2" r="7.7" fill="#00BFC4" fill-opacity="0.5"/>
<circle cx="825.3" cy="1124.5" r="7.7" fill="#00BFC4" fill-opacity="0.5"/>
<circle cx="825.3" cy="1174.1" r="7.7" fill="#00BFC4" fill-opacity="0.5"/>
<circle cx="844.0" cy="512.1" r="7.7" fill="#F8766D" fill-opacity="0.5"/>
<circle cx="844.0" cy="794.0" r="7.7" fill="#00BFC4" fill-opacity="0.5"/>
<circle cx="844.0" cy="807.9" r="7.7" fill="#F8766D" fill-opacity="0.5"/>
<circle cx="844.0" cy="810.6" r="7.7" fill="#00BFC4" fill-opacity="0.5"/>
<circle cx="844.0" cy="1025.1" r="7.7" fill="#F8766D" fill-opacity="0.5"/>
<circle cx="844.0" cy="1067.9" r="7.7" fill="#00BFC4" fill-opacity="0.5"/>
<circle cx="844.0" cy="1077.8" r="7.7" fill="#00BFC4" fill-opacity="0.5"/>
<circle cx="844.0" cy="1122.9" r="7.7" fill="#00BFC4" fill-opacity="0.5"/>
<circle cx="862.7" cy="652.9" r="7.7" fill="#F8766D" fill-opacity="0.5"/>
<circle cx="862.7" cy="750.8" r="7.7" fill="#F8766D" fill-opacity="0.5"/>
<circle cx="862.7" cy="823.1" r="7.7" fill="#F8766D" fill-opacity="0.5"/>
<circle cx="862.7" cy="908.0" r="7.7" fill="#F8766D" fill-opacity="0.5"/>
<circle cx="862.7" cy="983.4" r="7.7" fill="#00BFC4" fill-opacity="0.5"/>
<circle cx="862.7" cy="1042.7" r="7.7" fill="#F8766D" fill-opacity="0.5"/>
<circle cx="881.3" cy="1081.2" r="7.7" fill="#00BFC4" fill-opacity="0.5"/>
<circle cx="900.0" cy="1101.9" r="7.7" fill="#00BFC4" fill-opacity="0.5"/>
<line x1="694.7" y1="852.9" x2="862.7" y2="813.3" stroke="#F8766D" stroke-width="6.9"/>
<line x1="694.7" y1="919.2" x2="900.0" y2="871.0" stroke="#00BFC4" stroke-width="6.9"/>
</g></svg>
<line x1="713.36" x2="713.36" y1="1352.8" y2="1361.70" stroke="#000" stroke-width="3.7"/>
<g filter="url(#gs)"><text transform="translate(713.36,1389.80) scale(1,1.0)" font-size="29.5" text-anchor="middle" fill="#000" stroke="#000" stroke-width="0.45">12</text></g>
<line x1="788.02" x2="788.02" y1="1352.8" y2="1361.70" stroke="#000" stroke-width="3.7"/>
<g filter="url(#gs)"><text transform="translate(788.02,1389.80) scale(1,1.0)" font-size="29.5" text-anchor="middle" fill="#000" stroke="#000" stroke-width="0.45">16</text></g>
<line x1="862.68" x2="862.68" y1="1352.8" y2="1361.70" stroke="#000" stroke-width="3.7"/>
<g filter="url(#gs)"><text transform="translate(862.68,1389.80) scale(1,1.0)" font-size="29.5" text-anchor="middle" fill="#000" stroke="#000" stroke-width="0.45">20</text></g>
<rect x="948.50" y="190.0" width="266.9" height="56.00" fill="#D9D9D9"/>
<g filter="url(#gs)"><text transform="translate(1081.95,228.40) scale(1,1.01)" font-size="29.5" text-anchor="middle" fill="#1A1A1A" stroke="#1A1A1A" stroke-width="0.45">16–18 y/o</text></g>
<rect x="948.50" y="245.5" width="266.9" height="1107.30" fill="#EBEBEB"/>
<svg x="948.50" y="245.5" width="266.9" height="1107.30" overflow="hidden"><g transform="translate(-948.50,-245.5)">
<line x1="948.50" x2="1215.40" y1="1267.00" y2="1267.00" stroke="#fff" stroke-width="1.85"/>
<line x1="948.50" x2="1215.40" y1="946.40" y2="946.40" stroke="#fff" stroke-width="1.85"/>
<line x1="948.50" x2="1215.40" y1="625.80" y2="625.80" stroke="#fff" stroke-width="1.85"/>
<line x1="948.50" x2="1215.40" y1="305.20" y2="305.20" stroke="#fff" stroke-width="1.85"/>
<line x1="960.63" x2="960.63" y1="245.5" y2="1352.8" stroke="#fff" stroke-width="1.85"/>
<line x1="1035.29" x2="1035.29" y1="245.5" y2="1352.8" stroke="#fff" stroke-width="1.85"/>
<line x1="1109.95" x2="1109.95" y1="245.5" y2="1352.8" stroke="#fff" stroke-width="1.85"/>
<line x1="1184.60" x2="1184.60" y1="245.5" y2="1352.8" stroke="#fff" stroke-width="1.85"/>
<line x1="948.50" x2="1215.40" y1="1106.70" y2="1106.70" stroke="#fff" stroke-width="3.7"/>
<line x1="948.50" x2="1215.40" y1="786.10" y2="786.10" stroke="#fff" stroke-width="3.7"/>
<line x1="948.50" x2="1215.40" y1="465.50" y2="465.50" stroke="#fff" stroke-width="3.7"/>
<line x1="997.96" x2="997.96" y1="245.5" y2="1352.8" stroke="#fff" stroke-width="3.7"/>
<line x1="1072.62" x2="1072.62" y1="245.5" y2="1352.8" stroke="#fff" stroke-width="3.7"/>
<line x1="1147.28" x2="1147.28" y1="245.5" y2="1352.8" stroke="#fff" stroke-width="3.7"/>
<circle cx="960.6" cy="994.5" r="7.7" fill="#F8766D" fill-opacity="0.5"/>
<circle cx="979.3" cy="593.8" r="7.7" fill="#F8766D" fill-opacity="0.5"/>
<circle cx="979.3" cy="748.8" r="7.7" fill="#F8766D" fill-opacity="0.5"/>
<circle cx="998.0" cy="600.2" r="7.7" fill="#F8766D" fill-opacity="0.5"/>
<circle cx="998.0" cy="768.5" r="7.7" fill="#00BFC4" fill-opacity="0.5"/>
<circle cx="998.0" cy="802.4" r="7.7" fill="#00BFC4" fill-opacity="0.5"/>
<circle cx="998.0" cy="999.4" r="7.7" fill="#F8766D" fill-opacity="0.5"/>
<circle cx="1016.6" cy="693.5" r="7.7" fill="#F8766D" fill-opacity="0.5"/>
<circle cx="1016.6" cy="694.5" r="7.7" fill="#F8766D" fill-opacity="0.5"/>
<circle cx="1016.6" cy="729.0" r="7.7" fill="#F8766D" fill-opacity="0.5"/>
<circle cx="1016.6" cy="730.0" r="7.7" fill="#F8766D" fill-opacity="0.5"/>
<circle cx="1016.6" cy="771.7" r="7.7" fill="#F8766D" fill-opacity="0.5"/>
<circle cx="1016.6" cy="792.6" r="7.7" fill="#00BFC4" fill-opacity="0.5"/>
<circle cx="1016.6" cy="783.8" r="7.7" fill="#F8766D" fill-opacity="0.5"/>
<circle cx="1016.6" cy="818.1" r="7.7" fill="#00BFC4" fill-opacity="0.5"/>
<circle cx="1016.6" cy="936.8" r="7.7" fill="#F8766D" fill-opacity="0.5"/>
<circle cx="1016.6" cy="1053.9" r="7.7" fill="#00BFC4" fill-opacity="0.5"/>
<circle cx="1016.6" cy="1089.1" r="7.7" fill="#00BFC4" fill-opacity="0.5"/>
<circle cx="1035.3" cy="640.3" r="7.7" fill="#F8766D" fill-opacity="0.5"/>
<circle cx="1035.3" cy="656.3" r="7.7" fill="#F8766D" fill-opacity="0.5"/>
<circle cx="1035.3" cy="722.2" r="7.7" fill="#00BFC4" fill-opacity="0.5"/>
<circle cx="1035.3" cy="818.1" r="7.7" fill="#00BFC4" fill-opacity="0.5"/>
<circle cx="1035.3" cy="848.5" r="7.7" fill="#F8766D" fill-opacity="0.5"/>
<circle cx="1035.3" cy="864.7" r="7.7" fill="#F8766D" fill-opacity="0.5"/>
<circle cx="1035.3" cy="919.1" r="7.7" fill="#00BFC4" fill-opacity="0.5"/>
<circle cx="1035.3" cy="1042.7" r="7.7" fill="#00BFC4" fill-opacity="0.5"/>
<circle cx="1054.0" cy="572.9" r="7.7" fill="#F8766D" fill-opacity="0.5"/>
<circle cx="1054.0" cy="590.4" r="7.7" fill="#00BFC4" fill-opacity="0.5"/>
<circle cx="1054.0" cy="598.5" r="7.7" fill="#F8766D" fill-opacity="0.5"/>
<circle cx="1054.0" cy="667.6" r="7.7" fill="#F8766D" fill-opacity="0.5"/>
<circle cx="1054.0" cy="781.1" r="7.7" fill="#00BFC4" fill-opacity="0.5"/>
<circle cx="1054.0" cy="803.8" r="7.7" fill="#00BFC4" fill-opacity="0.5"/>
<circle cx="1054.0" cy="828.8" r="7.7" fill="#00BFC4" fill-opacity="0.5"/>
<circle cx="1054.0" cy="837.8" r="7.7" fill="#00BFC4" fill-opacity="0.5"/>
<circle cx="1054.0" cy="854.7" r="7.7" fill="#00BFC4" fill-opacity="0.5"/>
<circle cx="1054.0" cy="904.7" r="7.7" fill="#00BFC4" fill-opacity="0.5"/>
<circle cx="1054.0" cy="912.7" r="7.7" fill="#00BFC4" fill-opacity="0.5"/>
<circle cx="1054.0" cy="967.2" r="7.7" fill="#00BFC4" fill-opacity="0.5"/>
<circle cx="1054.0" cy="1053.9" r="7.7" fill="#00BFC4" fill-opacity="0.5"/>
<circle cx="1054.0" cy="1097.2" r="7.7" fill="#00BFC4" fill-opacity="0.5"/>
<circle cx="1072.6" cy="441.5" r="7.7" fill="#F8766D" fill-opacity="0.5"/>
<circle cx="1072.6" cy="515.2" r="7.7" fill="#F8766D" fill-opacity="0.5"/>
<circle cx="1072.6" cy="625.6" r="7.7" fill="#00BFC4" fill-opacity="0.5"/>
<circle cx="1072.6" cy="635.4" r="7.7" fill="#F8766D" fill-opacity="0.5"/>
<circle cx="1072.6" cy="699.7" r="7.7" fill="#F8766D" fill-opacity="0.5"/>
<circle cx="1072.6" cy="691.3" r="7.7" fill="#00BFC4" fill-opacity="0.5"/>
<circle cx="1072.6" cy="717.2" r="7.7" fill="#F8766D" fill-opacity="0.5"/>
<circle cx="1072.6" cy="729.7" r="7.7" fill="#00BFC4" fill-opacity="0.5"/>
<circle cx="1072.6" cy="732.4" r="7.7" fill="#00BFC4" fill-opacity="0.5"/>
<circle cx="1072.6" cy="741.3" r="7.7" fill="#00BFC4" fill-opacity="0.5"/>
<circle cx="1072.6" cy="753.8" r="7.7" fill="#00BFC4" fill-opacity="0.5"/>
<circle cx="1072.6" cy="775.2" r="7.7" fill="#00BFC4" fill-opacity="0.5"/>
<circle cx="1072.6" cy="778.8" r="7.7" fill="#00BFC4" fill-opacity="0.5"/>
<circle cx="1072.6" cy="787.7" r="7.7" fill="#00BFC4" fill-opacity="0.5"/>
<circle cx="1072.6" cy="795.8" r="7.7" fill="#00BFC4" fill-opacity="0.5"/>
<circle cx="1072.6" cy="838.7" r="7.7" fill="#00BFC4" fill-opacity="0.5"/>
<circle cx="1072.6" cy="854.0" r="7.7" fill="#00BFC4" fill-opacity="0.5"/>
<circle cx="1072.6" cy="852.0" r="7.7" fill="#F8766D" fill-opacity="0.5"/>
<circle cx="1072.6" cy="869.5" r="7.7" fill="#00BFC4" fill-opacity="0.5"/>
<circle cx="1072.6" cy="867.8" r="7.7" fill="#F8766D" fill-opacity="0.5"/>
<circle cx="1072.6" cy="882.5" r="7.7" fill="#00BFC4" fill-opacity="0.5"/>
<circle cx="1072.6" cy="896.8" r="7.7" fill="#00BFC4" fill-opacity="0.5"/>
<circle cx="1072.6" cy="927.5" r="7.7" fill="#00BFC4" fill-opacity="0.5"/>
<circle cx="1072.6" cy="929.0" r="7.7" fill="#00BFC4" fill-opacity="0.5"/>
<circle cx="1072.6" cy="938.6" r="7.7" fill="#00BFC4" fill-opacity="0.5"/>
<circle cx="1072.6" cy="952.9" r="7.7" fill="#00BFC4" fill-opacity="0.5"/>
<circle cx="1072.6" cy="1010.3" r="7.7" fill="#00BFC4" fill-opacity="0.5"/>
<circle cx="1091.3" cy="595.2" r="7.7" fill="#F8766D" fill-opacity="0.5"/>
<circle cx="1091.3" cy="847.1" r="7.7" fill="#F8766D" fill-opacity="0.5"/>
<circle cx="1091.3" cy="873.9" r="7.7" fill="#F8766D" fill-opacity="0.5"/>
<circle cx="1091.3" cy="886.8" r="7.7" fill="#F8766D" fill-opacity="0.5"/>
<circle cx="1091.3" cy="914.1" r="7.7" fill="#F8766D" fill-opacity="0.5"/>
<circle cx="1091.3" cy="967.2" r="7.7" fill="#00BFC4" fill-opacity="0.5"/>
<circle cx="1091.3" cy="977.0" r="7.7" fill="#00BFC4" fill-opacity="0.5"/>
<circle cx="1091.3" cy="988.3" r="7.7" fill="#00BFC4" fill-opacity="0.5"/>
<circle cx="1091.3" cy="1020.8" r="7.7" fill="#00BFC4" fill-opacity="0.5"/>
<circle cx="1091.3" cy="1039.3" r="7.7" fill="#00BFC4" fill-opacity="0.5"/>
<circle cx="1091.3" cy="1074.7" r="7.7" fill="#00BFC4" fill-opacity="0.5"/>
<circle cx="1091.3" cy="1137.2" r="7.7" fill="#00BFC4" fill-opacity="0.5"/>
<circle cx="1109.9" cy="295.5" r="7.7" fill="#F8766D" fill-opacity="0.5"/>
<circle cx="1109.9" cy="507.3" r="7.7" fill="#F8766D" fill-opacity="0.5"/>
<circle cx="1109.9" cy="531.5" r="7.7" fill="#F8766D" fill-opacity="0.5"/>
<circle cx="1109.9" cy="558.6" r="7.7" fill="#F8766D" fill-opacity="0.5"/>
<circle cx="1109.9" cy="646.5" r="7.7" fill="#00BFC4" fill-opacity="0.5"/>
<circle cx="1109.9" cy="696.3" r="7.7" fill="#00BFC4" fill-opacity="0.5"/>
<circle cx="1109.9" cy="715.7" r="7.7" fill="#F8766D" fill-opacity="0.5"/>
<circle cx="1109.9" cy="745.8" r="7.7" fill="#F8766D" fill-opacity="0.5"/>
<circle cx="1109.9" cy="795.8" r="7.7" fill="#F8766D" fill-opacity="0.5"/>
<circle cx="1109.9" cy="835.6" r="7.7" fill="#00BFC4" fill-opacity="0.5"/>
<circle cx="1109.9" cy="880.7" r="7.7" fill="#F8766D" fill-opacity="0.5"/>
<circle cx="1109.9" cy="885.6" r="7.7" fill="#F8766D" fill-opacity="0.5"/>
<circle cx="1109.9" cy="949.0" r="7.7" fill="#00BFC4" fill-opacity="0.5"/>
<circle cx="1109.9" cy="949.0" r="7.7" fill="#00BFC4" fill-opacity="0.5"/>
<circle cx="1109.9" cy="967.2" r="7.7" fill="#00BFC4" fill-opacity="0.5"/>
<circle cx="1109.9" cy="1186.7" r="7.7" fill="#00BFC4" fill-opacity="0.5"/>
<circle cx="1128.6" cy="791.3" r="7.7" fill="#F8766D" fill-opacity="0.5"/>
<circle cx="1128.6" cy="789.5" r="7.7" fill="#00BFC4" fill-opacity="0.5"/>
<circle cx="1128.6" cy="820.3" r="7.7" fill="#F8766D" fill-opacity="0.5"/>
<circle cx="1147.3" cy="598.5" r="7.7" fill="#F8766D" fill-opacity="0.5"/>
<circle cx="1147.3" cy="603.3" r="7.7" fill="#F8766D" fill-opacity="0.5"/>
<circle cx="1147.3" cy="629.2" r="7.7" fill="#F8766D" fill-opacity="0.5"/>
<circle cx="1147.3" cy="749.3" r="7.7" fill="#F8766D" fill-opacity="0.5"/>
<circle cx="1147.3" cy="778.8" r="7.7" fill="#F8766D" fill-opacity="0.5"/>
<circle cx="1147.3" cy="778.8" r="7.7" fill="#F8766D" fill-opacity="0.5"/>
<circle cx="1147.3" cy="907.9" r="7.7" fill="#00BFC4" fill-opacity="0.5"/>
<circle cx="1147.3" cy="932.0" r="7.7" fill="#00BFC4" fill-opacity="0.5"/>
<circle cx="1147.3" cy="1029.6" r="7.7" fill="#00BFC4" fill-opacity="0.5"/>
<circle cx="1147.3" cy="1036.0" r="7.7" fill="#00BFC4" fill-opacity="0.5"/>
<line x1="960.6" y1="757.4" x2="1147.3" y2="748.3" stroke="#F8766D" stroke-width="6.9"/>
<line x1="998.0" y1="822.0" x2="1147.3" y2="814.5" stroke="#00BFC4" stroke-width="6.9"/>
</g></svg>
<line x1="997.96" x2="997.96" y1="1352.8" y2="1361.70" stroke="#000" stroke-width="3.7"/>
<g filter="url(#gs)"><text transform="translate(997.96,1389.80) scale(1,1.0)" font-size="29.5" text-anchor="middle" fill="#000" stroke="#000" stroke-width="0.45">12</text></g>
<line x1="1072.62" x2="1072.62" y1="1352.8" y2="1361.70" stroke="#000" stroke-width="3.7"/>
<g filter="url(#gs)"><text transform="translate(1072.62,1389.80) scale(1,1.0)" font-size="29.5" text-anchor="middle" fill="#000" stroke="#000" stroke-width="0.45">16</text></g>
<line x1="1147.28" x2="1147.28" y1="1352.8" y2="1361.70" stroke="#000" stroke-width="3.7"/>
<g filter="url(#gs)"><text transform="translate(1147.28,1389.80) scale(1,1.0)" font-size="29.5" text-anchor="middle" fill="#000" stroke="#000" stroke-width="0.45">20</text></g>
<rect x="1233.10" y="190.0" width="266.9" height="56.00" fill="#D9D9D9"/>
<g filter="url(#gs)"><text transform="translate(1366.55,228.40) scale(1,1.01)" font-size="29.5" text-anchor="middle" fill="#1A1A1A" stroke="#1A1A1A" stroke-width="0.45">19–21 y/o</text></g>
<rect x="1233.10" y="245.5" width="266.9" height="1107.30" fill="#EBEBEB"/>
<svg x="1233.10" y="245.5" width="266.9" height="1107.30" overflow="hidden"><g transform="translate(-1233.10,-245.5)">
<line x1="1233.10" x2="1500.00" y1="1267.00" y2="1267.00" stroke="#fff" stroke-width="1.85"/>
<line x1="1233.10" x2="1500.00" y1="946.40" y2="946.40" stroke="#fff" stroke-width="1.85"/>
<line x1="1233.10" x2="1500.00" y1="625.80" y2="625.80" stroke="#fff" stroke-width="1.85"/>
<line x1="1233.10" x2="1500.00" y1="305.20" y2="305.20" stroke="#fff" stroke-width="1.85"/>
<line x1="1245.23" x2="1245.23" y1="245.5" y2="1352.8" stroke="#fff" stroke-width="1.85"/>
<line x1="1319.89" x2="1319.89" y1="245.5" y2="1352.8" stroke="#fff" stroke-width="1.85"/>
<line x1="1394.55" x2="1394.55" y1="245.5" y2="1352.8" stroke="#fff" stroke-width="1.85"/>
<line x1="1469.20" x2="1469.20" y1="245.5" y2="1352.8" stroke="#fff" stroke-width="1.85"/>
<line x1="1233.10" x2="1500.00" y1="1106.70" y2="1106.70" stroke="#fff" stroke-width="3.7"/>
<line x1="1233.10" x2="1500.00" y1="786.10" y2="786.10" stroke="#fff" stroke-width="3.7"/>
<line x1="1233.10" x2="1500.00" y1="465.50" y2="465.50" stroke="#fff" stroke-width="3.7"/>
<line x1="1282.56" x2="1282.56" y1="245.5" y2="1352.8" stroke="#fff" stroke-width="3.7"/>
<line x1="1357.22" x2="1357.22" y1="245.5" y2="1352.8" stroke="#fff" stroke-width="3.7"/>
<line x1="1431.88" x2="1431.88" y1="245.5" y2="1352.8" stroke="#fff" stroke-width="3.7"/>
<circle cx="1282.6" cy="1012.2" r="7.7" fill="#00BFC4" fill-opacity="0.5"/>
<circle cx="1282.6" cy="1034.5" r="7.7" fill="#00BFC4" fill-opacity="0.5"/>
<circle cx="1301.2" cy="566.5" r="7.7" fill="#F8766D" fill-opacity="0.5"/>
<circle cx="1301.2" cy="701.3" r="7.7" fill="#F8766D" fill-opacity="0.5"/>
<circle cx="1301.2" cy="759.0" r="7.7" fill="#F8766D" fill-opacity="0.5"/>
<circle cx="1319.9" cy="582.6" r="7.7" fill="#F8766D" fill-opacity="0.5"/>
<circle cx="1319.9" cy="680.9" r="7.7" fill="#00BFC4" fill-opacity="0.5"/>
<circle cx="1319.9" cy="680.9" r="7.7" fill="#00BFC4" fill-opacity="0.5"/>
<circle cx="1319.9" cy="692.0" r="7.7" fill="#00BFC4" fill-opacity="0.5"/>
<circle cx="1319.9" cy="1027.0" r="7.7" fill="#00BFC4" fill-opacity="0.5"/>
<circle cx="1319.9" cy="1028.0" r="7.7" fill="#00BFC4" fill-opacity="0.5"/>
<circle cx="1338.6" cy="563.3" r="7.7" fill="#00BFC4" fill-opacity="0.5"/>
<circle cx="1338.6" cy="737.9" r="7.7" fill="#00BFC4" fill-opacity="0.5"/>
<circle cx="1338.6" cy="762.1" r="7.7" fill="#00BFC4" fill-opacity="0.5"/>
<circle cx="1338.6" cy="803.8" r="7.7" fill="#00BFC4" fill-opacity="0.5"/>
<circle cx="1338.6" cy="859.9" r="7.7" fill="#00BFC4" fill-opacity="0.5"/>
<circle cx="1338.6" cy="890.4" r="7.7" fill="#00BFC4" fill-opacity="0.5"/>
<circle cx="1338.6" cy="924.0" r="7.7" fill="#00BFC4" fill-opacity="0.5"/>
<circle cx="1357.2" cy="566.5" r="7.7" fill="#00BFC4" fill-opacity="0.5"/>
<circle cx="1357.2" cy="688.1" r="7.7" fill="#00BFC4" fill-opacity="0.5"/>
<circle cx="1357.2" cy="737.9" r="7.7" fill="#00BFC4" fill-opacity="0.5"/>
<circle cx="1357.2" cy="765.3" r="7.7" fill="#00BFC4" fill-opacity="0.5"/>
<circle cx="1357.2" cy="808.6" r="7.7" fill="#00BFC4" fill-opacity="0.5"/>
<circle cx="1375.9" cy="776.0" r="7.7" fill="#F8766D" fill-opacity="0.5"/>
<circle cx="1375.9" cy="782.8" r="7.7" fill="#00BFC4" fill-opacity="0.5"/>
<circle cx="1394.5" cy="800.5" r="7.7" fill="#F8766D" fill-opacity="0.5"/>
<circle cx="1394.5" cy="1071.5" r="7.7" fill="#00BFC4" fill-opacity="0.5"/>
<circle cx="1413.2" cy="737.9" r="7.7" fill="#F8766D" fill-opacity="0.5"/>
<circle cx="1413.2" cy="789.4" r="7.7" fill="#00BFC4" fill-opacity="0.5"/>
<circle cx="1413.2" cy="1033.1" r="7.7" fill="#00BFC4" fill-opacity="0.5"/>
<circle cx="1413.2" cy="1076.5" r="7.7" fill="#00BFC4" fill-opacity="0.5"/>
<circle cx="1431.9" cy="541.0" r="7.7" fill="#F8766D" fill-opacity="0.5"/>
<circle cx="1450.5" cy="438.4" r="7.7" fill="#F8766D" fill-opacity="0.5"/>
<circle cx="1450.5" cy="520.1" r="7.7" fill="#F8766D" fill-opacity="0.5"/>
<circle cx="1450.5" cy="767.1" r="7.7" fill="#F8766D" fill-opacity="0.5"/>
<circle cx="1450.5" cy="882.4" r="7.7" fill="#F8766D" fill-opacity="0.5"/>
<circle cx="1450.5" cy="813.4" r="7.7" fill="#00BFC4" fill-opacity="0.5"/>
<circle cx="1469.2" cy="714.0" r="7.7" fill="#F8766D" fill-opacity="0.5"/>
<circle cx="1469.2" cy="907.7" r="7.7" fill="#F8766D" fill-opacity="0.5"/>
<circle cx="1469.2" cy="946.5" r="7.7" fill="#00BFC4" fill-opacity="0.5"/>
<line x1="1301.2" y1="665.4" x2="1469.2" y2="688.8" stroke="#F8766D" stroke-width="6.9"/>
<line x1="1282.6" y1="729.0" x2="1469.2" y2="755.1" stroke="#00BFC4" stroke-width="6.9"/>
</g></svg>
<line x1="1282.56" x2="1282.56" y1="1352.8" y2="1361.70" stroke="#000" stroke-width="3.7"/>
<g filter="url(#gs)"><text transform="translate(1282.56,1389.80) scale(1,1.0)" font-size="29.5" text-anchor="middle" fill="#000" stroke="#000" stroke-width="0.45">12</text></g>
<line x1="1357.22" x2="1357.22" y1="1352.8" y2="1361.70" stroke="#000" stroke-width="3.7"/>
<g filter="url(#gs)"><text transform="translate(1357.22,1389.80) scale(1,1.0)" font-size="29.5" text-anchor="middle" fill="#000" stroke="#000" stroke-width="0.45">16</text></g>
<line x1="1431.88" x2="1431.88" y1="1352.8" y2="1361.70" stroke="#000" stroke-width="3.7"/>
<g filter="url(#gs)"><text transform="translate(1431.88,1389.80) scale(1,1.0)" font-size="29.5" text-anchor="middle" fill="#000" stroke="#000" stroke-width="0.45">20</text></g>
<line x1="85.90" x2="94.7" y1="1106.70" y2="1106.70" stroke="#000" stroke-width="3.7"/>
<g filter="url(#gs)"><text transform="translate(79.20,1117.70) scale(1,1.0)" font-size="29.5" text-anchor="end" fill="#000" stroke="#000" stroke-width="0.45">26</text></g>
<line x1="85.90" x2="94.7" y1="786.10" y2="786.10" stroke="#000" stroke-width="3.7"/>
<g filter="url(#gs)"><text transform="translate(79.20,797.10) scale(1,1.0)" font-size="29.5" text-anchor="end" fill="#000" stroke="#000" stroke-width="0.45">28</text></g>
<line x1="85.90" x2="94.7" y1="465.50" y2="465.50" stroke="#000" stroke-width="3.7"/>
<g filter="url(#gs)"><text transform="translate(79.20,476.50) scale(1,1.0)" font-size="29.5" text-anchor="end" fill="#000" stroke="#000" stroke-width="0.45">30</text></g>
<g filter="url(#gs)"><text transform="translate(797.40,1430.00) scale(1,1.03)" font-size="36" text-anchor="middle" fill="#000" stroke="#000" stroke-width="0.45">IOP (mmHg)</text></g>
<g filter="url(#gs)"><text transform="translate(31,799.3) rotate(-90) scale(1,1.03)" font-size="36" text-anchor="middle" fill="#000" stroke="#000" stroke-width="0.45">AL (mm)</text></g>
</svg></body></html>
